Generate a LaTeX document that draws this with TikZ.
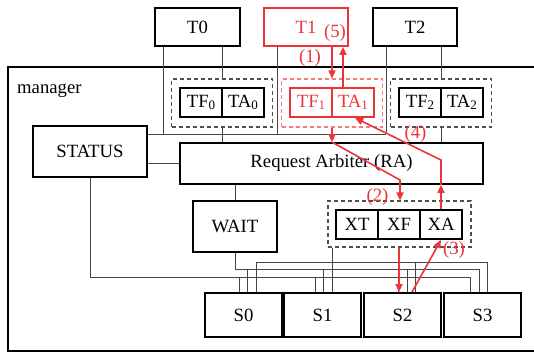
\documentclass[tikz,border=0pt]{standalone}
\usepackage{fontspec}
\setmainfont{Liberation Serif}
\usetikzlibrary{arrows.meta}
\definecolor{rd}{RGB}{236,52,56}
\definecolor{rdl}{RGB}{242,125,125}
\definecolor{cn}{RGB}{70,70,70}
\definecolor{dsh}{RGB}{80,80,80}
\newcommand\subd[1]{\raisebox{-2pt}{\fontsize{13}{13}\selectfont #1}}
\begin{document}
\begin{tikzpicture}[x=1pt,y=-1pt,
  font=\fontsize{18.7}{22}\selectfont,
  box/.style={draw=black, line width=1.8pt, inner sep=0pt, fill=white},
  rbox/.style={box, draw=rd, text=rd},
  cell/.style={box, minimum width=42, minimum height=29},
  rcell/.style={rbox, minimum width=42, minimum height=29},
  grp/.style={draw=dsh, line width=1.1pt, dash pattern=on 4pt off 3pt, inner sep=0pt, minimum width=101, minimum height=48},
  conn/.style={draw=cn, line width=0.9pt},
  rarr/.style={draw=rd, line width=1.6pt, -{Triangle[length=8pt,width=7pt]}},
  lbl/.style={text=rd, inner sep=0pt}]
\useasboundingbox (0,0) rectangle (534,353);
\clip (0,0) rectangle (534,353);
\fill[white] (0,0) rectangle (534,353);

% manager frame (right edge outside the picture)
\draw[line width=2.2pt] (545,67) -- (8,67) -- (8,351) -- (545,351);
\node[anchor=base west, inner sep=0pt] (mgr) at (17,93) {manager};

% T boxes
\node[box, minimum width=85, minimum height=38] (T0) at (197.5,27) {T0};
\node[rbox, minimum width=84, minimum height=38] (T1) at (306,27) {T1};
\node[box, minimum width=84, minimum height=38] (T2) at (415,27) {T2};

% groups
\node[grp] (G0) at (222,103) {};
\node[grp, draw=rdl] (G1) at (332,103) {};
\node[grp] (G2) at (441,103) {};
\node[cell] (TF0) at (201,102.5) {TF\subd{0}};
\node[cell] (TA0) at (243,102.5) {TA\subd{0}};
\node[rcell] (TF1) at (311,102.5) {TF\subd{1}};
\node[rcell] (TA1) at (353,102.5) {TA\subd{1}};
\node[cell] (TF2) at (420,102.5) {TF\subd{2}};
\node[cell] (TA2) at (462,102.5) {TA\subd{2}};

% main boxes
\node[box, minimum width=114, minimum height=51] (ST) at (90,151.5) {STATUS};
\node[box, minimum width=303, minimum height=41] (RA) at (331.5,163.5) {Request Arbiter (RA)};
\node[box, minimum width=84, minimum height=51] (WAIT) at (235,226.5) {WAIT};
\node[grp, minimum width=143, minimum height=46] (XG) at (399.5,224) {};
\node[cell] (XT) at (357,224.5) {XT};
\node[cell] (XF) at (399,224.5) {XF};
\node[cell] (XA) at (441,224.5) {XA};

\node[box, minimum width=77, minimum height=44] (S0) at (243.5,315) {S0};
\node[box, minimum width=77, minimum height=44] (S1) at (322.5,315) {S1};
\node[box, minimum width=77, minimum height=44] (S2) at (402.5,315) {S2};
\node[box, minimum width=77, minimum height=44] (S3) at (482.5,315) {S3};

% bus coordinates
\coordinate (b0) at (163,134);
\coordinate (b1) at (277,134);
\coordinate (b2) at (386,134);

% black/gray connectors
\draw[conn] (T0.south -| b0) -- (b0);
\draw[conn] (T0.south -| G0.north) -- (G0.north);
\draw[conn] (G0.south) -- (G0.south |- RA.north);
\draw[conn] (T1.south -| b1) -- (b1);
\draw[conn] (T2.south -| b2) -- (b2);
\draw[conn] (T2.south -| G2.north) -- (G2.north);
\draw[conn] (G2.south) -- (G2.south |- RA.north);
\draw[conn] (ST.east |- b0) -- (b2);
\draw[conn] (ST.east |- 0,163) -- (RA.west |- 0,163);
\draw[conn] (RA.south -| WAIT.north) -- (WAIT.north);

% rail C (STATUS)
\draw[conn] (ST.south) |- (470,277) -- (S3.north -| 470,0);
\draw[conn] (239,277) -- (S0.north -| 239,0);
\draw[conn] (315,277) -- (S1.north -| 315,0);
\draw[conn] (398,277) -- (S2.north -| 398,0);
% rail B (WAIT)
\draw[conn] (WAIT.south) |- (479,269) -- (S3.north -| 479,0);
\draw[conn] (247,269) -- (S0.north -| 247,0);
\draw[conn] (323,269) -- (S1.north -| 323,0);
\draw[conn] (407,269) -- (S2.north -| 407,0);
% rail A (X group)
\draw[conn] (XG.south -| 332,0) -- (S1.north -| 332,0);
\draw[conn] (S0.north -| 256,0) |- (487,262) -- (S3.north -| 487,0);
\draw[conn] (415,262) -- (S2.north -| 415,0);

% red flow
\draw[rarr] (T1.south -| 332,0) -- (G1.north);
\draw[rarr] (TA1.north -| 343,0) -- (T1.south -| 343,0);
\draw[rarr] (G1.south) -- (G1.south |- RA.north);
\draw[rarr] (G1.south |- RA.north) -- (400,180) -- (XG.north -| 400,0);
\draw[rarr] (XG.south -| XF.south) -- (S2.north -| XF.south);
\draw[rarr] (S2.north -| 412,0) -- (XA.south);
\draw[rarr] (XA.north) -- (XA.north |- RA.south);
\draw[rarr] (XA.north |- RA.south) -- (441,160) -- (TA1.south -| 355,0);

% step labels
\node[lbl] (l1) at (310,58) {(1)};
\node[lbl] (l5) at (335,33) {(5)};
\node[lbl] (l2) at (377.5,197) {(2)};
\node[lbl] (l3) at (454,250) {(3)};
\node[lbl] (l4) at (415.5,134.5) {(4)};
\end{tikzpicture}
\end{document}
